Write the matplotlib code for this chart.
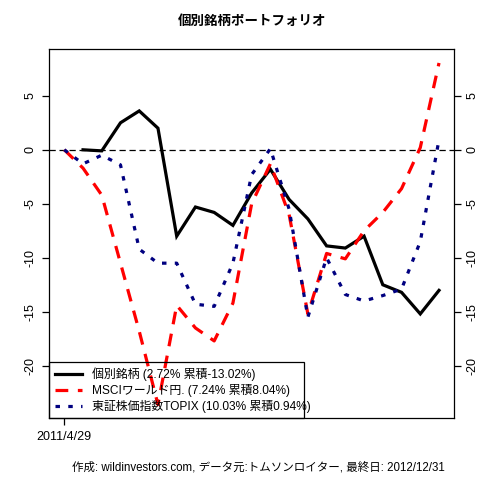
import numpy as np
import matplotlib
matplotlib.use("Agg")
import matplotlib.pyplot as plt

plt.rcParams['font.family'] = ['Liberation Sans', 'Noto Sans CJK JP', 'DejaVu Sans']

# monthly index, 2011/4/29 .. 2012/12/31
x_labels = ["2011/4/29"]
kobetsu = [np.nan, 0.0, -0.1, 2.5, 3.6, 2.0, -8.0, -5.3, -5.8, -7.0, -4.0, -1.8,
           -4.6, -6.4, -8.9, -9.1, -8.0, -12.5, -13.2, -15.2, -13.02]
msci = [0.0, -1.7, -4.2, -10.5, -16.8, -23.6, -14.4, -16.5, -17.7, -14.2, -5.0, -1.3,
        -6.0, -15.2, -9.6, -10.1, -7.5, -5.8, -3.6, 0.2, 8.04]
topix = [0.0, -1.3, -0.5, -1.4, -9.2, -10.5, -10.5, -14.3, -14.5, -10.5, -2.3, 0.1,
         -5.5, -15.5, -10.0, -13.4, -14.0, -13.5, -12.9, -8.5, 0.94]
legend_labels = ["個別銘柄 (2.72% 累積-13.02%)",
                 "MSCIワールド円. (7.24% 累積8.04%)",
                 "東証株価指数TOPIX (10.03% 累積0.94%)"]
title = "個別銘柄ポートフォリオ"
footer = "作成: wildinvestors.com, データ元:トムソンロイター, 最終日: 2012/12/31"
yticks = [-20, -15, -10, -5, 0, 5]

fig = plt.figure(figsize=(4.8, 4.8), dpi=100)
ax = fig.add_axes([49.3/480, 1-418.3/480, (454-49.3)/480, (418.3-49.3)/480])

n = len(msci)
x = np.arange(n)
ax.axhline(0, color='black', lw=0.9, ls=(0, (5, 3)), zorder=1)
ax.plot(x, kobetsu, color='black', lw=2.3, solid_joinstyle='miter', label=legend_labels[0], zorder=3)
ax.plot(x, msci, color='#ff0000', lw=2.3, ls=(0, (4, 3)), label=legend_labels[1], zorder=3)
ax.plot(x, topix, color='#000080', lw=2.3, ls=(0, (1.4, 2.6)), label=legend_labels[2], zorder=3)

allv = np.array([v for s in (kobetsu, msci, topix) for v in s if not np.isnan(v)])
lo, hi = allv.min(), allv.max()
r = hi - lo
ax.set_ylim(lo - 0.04*r, hi + 0.04*r)
ax.set_xlim(-0.04*(n-1), (n-1)*1.04)

ax.set_yticks(yticks)
ax.set_yticklabels([str(t) for t in yticks], rotation=90, va='center')
ax.set_xticks([0])
ax.set_xticklabels(x_labels)
ax.tick_params(axis='y', which='both', left=True, right=True, labelleft=True, labelright=True,
               length=5, width=0.9, pad=4, labelsize=9)
ax.tick_params(axis='x', length=5, width=0.9, pad=4, labelsize=9)
for s in ax.spines.values():
    s.set_linewidth(0.9)

leg_w = (304 - 49.3) / (454 - 49.3)
leg_h = (418.3 - 361) / (418.3 - 49.3)
leg = ax.legend(loc='lower left', bbox_to_anchor=(0, 0, leg_w, leg_h), mode='expand',
                borderaxespad=0, fancybox=False, facecolor='none', framealpha=None,
                edgecolor='black', fontsize=8.6, handlelength=2.3, handletextpad=0.8,
                labelspacing=0.25, borderpad=0.45)
leg.get_frame().set_linewidth(0.9)
leg.get_frame().set_edgecolor('black')
leg.get_frame().set_alpha(None)

fig.text((49.3+454)/2/480, 1-22/480, title, ha='center', va='center', fontsize=9.7, fontweight='bold')
fig.text(258/480, 1-468/480, footer, ha='center', va='center', fontsize=8.3)

fig.savefig("out.png", dpi=100)
